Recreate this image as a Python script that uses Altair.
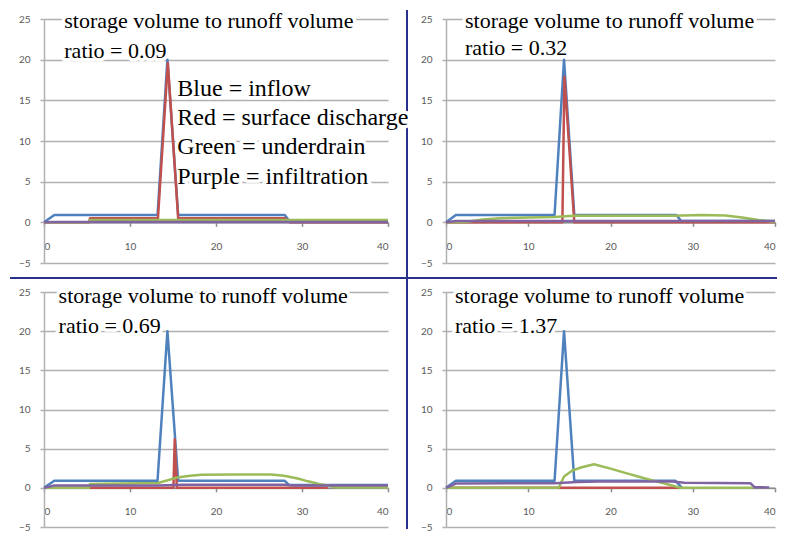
import altair as alt
import pandas as pd

SERIES = ["inflow", "surface discharge", "underdrain", "infiltration"]
COLORS = ["#4F81BD", "#C0504D", "#9BBB59", "#8064A2"]
RATIOS = ["0.09", "0.32", "0.69", "1.37"]
TITLE_LINE = "storage volume to runoff volume"
KEY_LINES = ["Blue = inflow", "Red = surface discharge", "Green = underdrain", "Purple = infiltration"]
X_TICKS = [0, 10, 20, 30, 40]
Y_TICKS = [-5, 0, 5, 10, 15, 20, 25]

# ---- panel 1: ratio 0.09 ----
P1_INFLOW_T = [0, 1.2, 13.2, 14.35, 15.6, 28.0, 28.6, 40]
P1_INFLOW_Q = [0, 0.9, 0.9, 20.0, 0.9, 0.9, 0.05, 0.05]
P1_SURF_T = [0, 5.25, 5.35, 13.25, 14.4, 15.6, 28.0, 28.6, 40]
P1_SURF_Q = [0, 0, 0.5, 0.5, 19.6, 0.5, 0.5, 0, 0]
P1_UNDER_T = [0, 5.25, 5.35, 40]
P1_UNDER_Q = [0, 0, 0.3, 0.3]
P1_INFIL_T = [0, 1.2, 40]
P1_INFIL_Q = [0, 0.05, 0.05]

# ---- panel 2: ratio 0.32 ----
P2_INFLOW_T = [0, 1.2, 13.2, 14.35, 15.6, 28.0, 28.6, 40]
P2_INFLOW_Q = [0, 0.9, 0.9, 20.0, 0.9, 0.9, 0.15, 0.15]
P2_SURF_T = [0, 14.15, 14.4, 15.6, 40]
P2_SURF_Q = [0, 0, 17.9, 0, 0]
P2_UNDER_T = [0, 2.4, 4.5, 6.6, 10, 13.2, 15.5, 27.6, 31, 34, 36, 38, 40]
P2_UNDER_Q = [0, 0.05, 0.35, 0.5, 0.6, 0.65, 0.82, 0.82, 0.9, 0.85, 0.6, 0.3, 0.05]
P2_INFIL_T = [0, 1.2, 40]
P2_INFIL_Q = [0, 0.15, 0.15]

# ---- panel 3: ratio 0.69 ----
P3_INFLOW_T = [0, 1.2, 13.2, 14.35, 15.6, 28.0, 28.5, 40]
P3_INFLOW_Q = [0, 0.9, 0.9, 20.0, 0.9, 0.9, 0.35, 0.35]
P3_SURF_T = [0, 15.05, 15.2, 15.45, 33.0]
P3_SURF_Q = [0, 0, 6.2, 0, 0]
P3_UNDER_T = [0, 5.25, 5.35, 13.25, 14.5, 15.5, 17, 18.3, 22, 26.4, 27.9, 29.5, 30.7, 32, 33.0, 34, 40]
P3_UNDER_Q = [0, 0, 0.5, 0.62, 1.0, 1.33, 1.55, 1.66, 1.7, 1.7, 1.54, 1.2, 0.83, 0.5, 0.3, 0.05, 0.05]
P3_INFIL_T = [0, 1.2, 13.2, 16, 28, 29, 40]
P3_INFIL_Q = [0, 0.3, 0.3, 0.4, 0.4, 0.3, 0.3]

# ---- panel 4: ratio 1.37 ----
P4_INFLOW_T = [0, 1.2, 13.2, 14.35, 15.6, 27.9, 28.7]
P4_INFLOW_Q = [0, 0.9, 0.9, 20.0, 0.9, 0.9, 0]
P4_SURF_T = [0, 28.5]
P4_SURF_Q = [0, 0]
P4_UNDER_T = [0, 13.7, 14.35, 15.35, 16.4, 18.0, 20, 22, 24, 26, 27.5, 28.5, 37.3]
P4_UNDER_Q = [0, 0, 1.45, 2.2, 2.6, 3.0, 2.45, 1.85, 1.25, 0.7, 0.3, 0, 0]
P4_INFIL_T = [0, 1.2, 13.2, 16, 18.5, 27.5, 29, 37.0, 37.5, 39.3]
P4_INFIL_Q = [0, 0.55, 0.6, 0.75, 0.8, 0.8, 0.65, 0.6, 0.1, 0.05]

PANEL_DATA = [
    [(P1_INFLOW_T, P1_INFLOW_Q), (P1_SURF_T, P1_SURF_Q), (P1_UNDER_T, P1_UNDER_Q), (P1_INFIL_T, P1_INFIL_Q)],
    [(P2_INFLOW_T, P2_INFLOW_Q), (P2_SURF_T, P2_SURF_Q), (P2_UNDER_T, P2_UNDER_Q), (P2_INFIL_T, P2_INFIL_Q)],
    [(P3_INFLOW_T, P3_INFLOW_Q), (P3_SURF_T, P3_SURF_Q), (P3_UNDER_T, P3_UNDER_Q), (P3_INFIL_T, P3_INFIL_Q)],
    [(P4_INFLOW_T, P4_INFLOW_Q), (P4_SURF_T, P4_SURF_Q), (P4_UNDER_T, P4_UNDER_Q), (P4_INFIL_T, P4_INFIL_Q)],
]

# annotation anchor points in data units (x, baseline of line 1, baseline of line 2)
TITLE_ANCHORS = [(2.36, 23.89, 20.17), (2.31, 23.89, 20.57), (1.7, 23.65, 19.74), (1.09, 23.65, 19.74)]
KEY_X = 15.5
KEY_BASELINES = [15.53, 11.93, 8.36, 4.75]

# layout
SIZES = [(344, 244), (329, 244), (344, 235), (329, 235)]
NAVY = "#2a318c"
GRID = "#b0b0b0"
AXIS_LINE = "#8c8c8c"
LABEL = "#595959"
SERIF = "'Liberation Serif', 'Times New Roman', serif"
SANS = "Lato"


def make_panel(i):
    w, h = SIZES[i]
    x_axis = alt.Axis(values=X_TICKS, grid=False, offset=-h / 6.0, tickSize=4, tickWidth=1.5,
                      labelPadding=15, domainColor=AXIS_LINE, domainWidth=1.5, tickColor=AXIS_LINE,
                      domain=True, ticks=True,
                      labelColor=LABEL, labelFont=SANS, labelFontSize=10, title="")
    y_axis = alt.Axis(values=Y_TICKS, grid=True, gridColor=GRID, gridWidth=1.5, gridOpacity=1,
                      tickSize=4, ticks=True, domain=True,
                      tickColor=GRID, tickWidth=1.5, domainColor=GRID, domainWidth=1.5, labelPadding=10,
                      labelColor=LABEL, labelFont=SANS, labelFontSize=10, title="",
                      labelOverlap=False)
    xs = alt.Scale(domain=[0, 40], nice=False, zero=False)
    ys = alt.Scale(domain=[-5, 25], nice=False, zero=False)
    X = alt.X("t:Q", scale=xs, axis=x_axis)
    Y = alt.Y("q:Q", scale=ys, axis=y_axis)

    halos, texts, lines = [], [], []
    tx, ty1, ty2 = TITLE_ANCHORS[i]
    tdf = pd.DataFrame({"t": [tx, tx], "q": [ty1, ty2],
                        "label": [TITLE_LINE, "ratio = " + RATIOS[i]]})
    base_t = alt.Chart(tdf).encode(x=X, y=Y, text="label:N")
    halos.append(base_t.mark_text(align="left", baseline="alphabetic", font=SERIF, fontSize=22,
                                  color="white", stroke="white", strokeWidth=7, strokeJoin="round"))
    texts.append(base_t.mark_text(align="left", baseline="alphabetic", font=SERIF, fontSize=22,
                                  color="black"))
    if i == 0:
        kdf = pd.DataFrame({"t": [KEY_X] * 4, "q": KEY_BASELINES, "label": KEY_LINES})
        base_k = alt.Chart(kdf).encode(x=X, y=Y, text="label:N")
        halos.append(base_k.mark_text(align="left", baseline="alphabetic", font=SERIF, fontSize=24,
                                      color="white", stroke="white", strokeWidth=7, strokeJoin="round"))
        texts.append(base_k.mark_text(align="left", baseline="alphabetic", font=SERIF, fontSize=24,
                                      color="black"))

    for (t, q), name, col in zip(PANEL_DATA[i], SERIES, COLORS):
        df = pd.DataFrame({"t": t, "q": q, "series": name})
        lines.append(
            alt.Chart(df).mark_line(color=col, strokeWidth=2.5, strokeJoin="round").encode(x=X, y=Y)
        )

    frame = []
    if i == 0:
        one = pd.DataFrame({"k": [0]})
        frame.append(alt.Chart(one).mark_rule(color=NAVY, strokeWidth=2).encode(
            x=alt.value(363), y=alt.value(-9), y2=alt.value(510)))
        frame.append(alt.Chart(one).mark_rule(color=NAVY, strokeWidth=2).encode(
            y=alt.value(259), x=alt.value(-34), x2=alt.value(733)))

    return alt.layer(*(frame + halos + lines + texts)).properties(width=w, height=h)


chart = alt.concat(
    *[make_panel(i) for i in range(4)],
    columns=2,
    spacing={"row": 29, "column": 58},
    bounds="flush",
).properties(padding=0, background="white").configure_view(stroke="transparent")

chart.save("out.html", embed_options={"renderer": "svg", "actions": False})
